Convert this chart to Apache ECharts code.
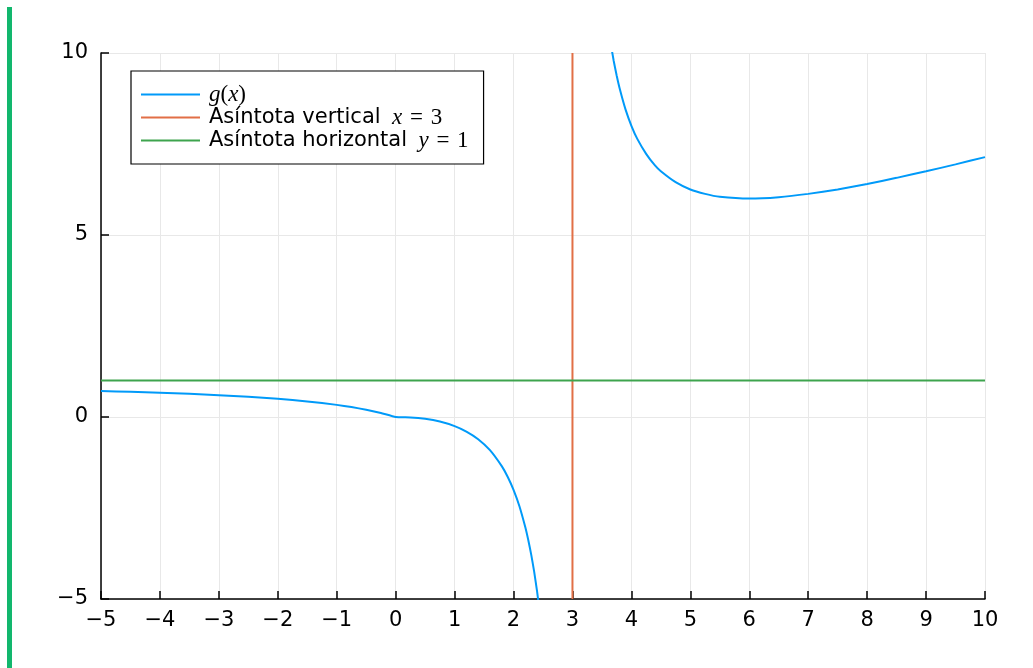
<!DOCTYPE html>
<html>
<head>
<meta charset="utf-8">
<script src="https://cdn.jsdelivr.net/npm/echarts@6/dist/echarts.min.js"></script>
<style>
html,body{margin:0;padding:0;background:#fff;}
#chart{width:1033px;height:668px;}
</style>
</head>
<body>
<div id="chart"></div>
<script>
// g(x) values, left branch (x < 3)
const gLeftX = [-5, -4.5, -4, -3.5, -3, -2.5, -2, -1.5, -1, -0.75, -0.5, -0.25, 0, 0.25, 0.5, 0.75, 1, 1.2, 1.4, 1.6, 1.8, 1.9, 2, 2.1, 2.2, 2.25, 2.3, 2.35, 2.4, 2.42];
const gLeftY = [0.714, 0.692, 0.667, 0.636, 0.6, 0.556, 0.5, 0.429, 0.333, 0.273, 0.2, 0.111, 0, -0.011, -0.05, -0.125, -0.25, -0.4, -0.61, -0.91, -1.35, -1.64, -2, -2.45, -3.03, -3.38, -3.78, -4.25, -4.8, -5.05];
// right branch (x > 3)
const gRightX = [3.65, 3.7, 3.75, 3.8, 3.9, 4, 4.1, 4.25, 4.4, 4.5, 4.75, 5, 5.25, 5.5, 6, 6.5, 7, 7.5, 8, 8.5, 9, 9.5, 10];
const gRightY = [10.25, 9.78, 9.38, 9.03, 8.45, 8, 7.64, 7.23, 6.91, 6.75, 6.45, 6.25, 6.13, 6.05, 6, 6.04, 6.13, 6.25, 6.4, 6.57, 6.75, 6.94, 7.14];
// asymptotes
const vAsymX = [3, 3];
const vAsymY = [-5, 10];
const hAsymX = [-5, 10];
const hAsymY = [1, 1];
const seriesNames = ['g(x)', 'Asíntota vertical x = 3', 'Asíntota horizontal y = 1'];
const colors = ['#009af9', '#e26f46', '#3ea44e'];

const zip = (a, b) => a.map((v, i) => [v, b[i]]);
const minusFmt = v => String(v).replace('-', '\u2212');

const chart = echarts.init(document.getElementById('chart'));
const labelFont = { fontFamily: 'DejaVu Sans', fontSize: 21, color: '#000' };
const axisCommon = {
  type: 'value',
  axisLine: { show: true, onZero: false, lineStyle: { color: '#000', width: 1.5 } },
  axisTick: { show: true, inside: true, length: 8, lineStyle: { color: '#000', width: 1.5 } },
  splitLine: { show: true, lineStyle: { color: '#e8e8e8', width: 1 } },
  axisLabel: Object.assign({ formatter: minusFmt }, labelFont)
};
const mathSerif = { fontFamily: 'Liberation Serif', fontSize: 23, lineHeight: 23 };
chart.setOption({
  animation: false,
  backgroundColor: '#fff',
  color: colors,
  graphic: [{
    type: 'rect', left: 7, top: 7, shape: { width: 5, height: 661 },
    style: { fill: '#12b76d' }, silent: true
  }],
  grid: { left: 101, right: 48, top: 53, bottom: 69, containLabel: false },
  xAxis: Object.assign({}, axisCommon, {
    min: -5, max: 10, interval: 1,
    axisLabel: Object.assign({ formatter: minusFmt, margin: 11 }, labelFont)
  }),
  yAxis: Object.assign({}, axisCommon, {
    min: -5, max: 10, interval: 5,
    axisLabel: Object.assign({ formatter: minusFmt, margin: 13 }, labelFont)
  }),
  legend: {
    left: 131, top: 71, orient: 'vertical',
    data: seriesNames,
    icon: 'rect', itemWidth: 59, itemHeight: 2, itemGap: 0,
    backgroundColor: '#fff', borderColor: '#000', borderWidth: 1.2,
    padding: [12, 15, 12, 10],
    textStyle: {
      fontFamily: 'DejaVu Sans', fontSize: 21, color: '#000', lineHeight: 23, padding: [0, 0, 0, 4],
      rich: {
        m: Object.assign({ fontStyle: 'italic' }, mathSerif),
        r: Object.assign({}, mathSerif)
      }
    },
    formatter: function (name) {
      if (name === seriesNames[0]) return '{m|g}{r|(}{m|x}{r|)}';
      if (name === seriesNames[1]) return 'Asíntota vertical{r|\u2002}{m|x}{r| \u200a= \u200a3}';
      return 'Asíntota horizontal{r|\u2002}{m|y}{r| \u200a= \u200a1}';
    }
  },
  series: [
    { name: seriesNames[0], type: 'line', data: zip(gLeftX, gLeftY), showSymbol: false, smooth: 0.15, clip: true, lineStyle: { width: 2, color: colors[0] }, itemStyle: { color: colors[0] } },
    { name: seriesNames[0], type: 'line', data: zip(gRightX, gRightY), showSymbol: false, smooth: 0.15, clip: true, lineStyle: { width: 2, color: colors[0] }, itemStyle: { color: colors[0] } },
    { name: seriesNames[1], type: 'line', data: zip(vAsymX, vAsymY), showSymbol: false, lineStyle: { width: 2, color: colors[1] }, itemStyle: { color: colors[1] } },
    { name: seriesNames[2], type: 'line', data: zip(hAsymX, hAsymY), showSymbol: false, lineStyle: { width: 2, color: colors[2] }, itemStyle: { color: colors[2] } }
  ]
});
</script>
</body>
</html>
